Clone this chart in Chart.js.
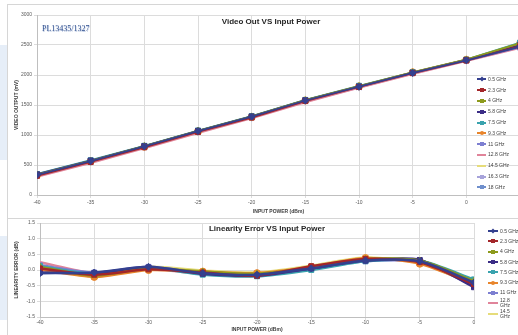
<!DOCTYPE html>
<html>
<head>
<meta charset="utf-8">
<script src="https://cdn.jsdelivr.net/npm/chart.js@4.4.1/dist/chart.umd.min.js"></script>
<style>
    html, body { margin: 0; padding: 0; width: 518px; height: 335px; overflow: hidden; background: #fff; font-family: "Liberation Sans", Arial, sans-serif; }
    .panel { position: absolute; left: 0; overflow: hidden; }
    #topPanel { top: 0; width: 518px; height: 218px; }
    #bottomPanel { top: 218px; width: 518px; height: 117px; }
    .panel canvas { position: absolute; left: 0; top: 0; }
    .frame { position: absolute; border: 1px solid #d6d6d6; }
    .shade { position: absolute; left: 0; width: 7px; background: #e6eef8; }
    .title { position: absolute; width: 200px; text-align: center; font-weight: bold; font-size: 8px; line-height: 10px; color: #262626; }
    .tag { position: absolute; left: 42px; top: 24px; font-family: "Liberation Serif", serif; font-size: 8px; line-height: 10px; color: #2f4f8f; text-shadow: 0.5px 0.5px 0 #b8c6e0; }
    .legend { position: absolute; overflow: hidden; font-size: 5px; color: #404040; }
    .item { display: flex; align-items: center; }
    .sw { position: relative; flex: none; height: 6px; margin-right: 2px; }
    .ln { position: absolute; left: 0; right: 0; top: 2px; height: 2px; }
    .mk { position: absolute; top: 1px; width: 4px; height: 4px; }
</style>
</head>
<body>

<div class="shade" style="top:45px;height:115px"></div>
<div class="shade" style="top:236px;height:84px"></div>

<div id="topPanel" class="panel">
    <div class="frame" style="left:7px;top:4px;width:530px;height:220px"></div>
    <canvas id="videoOutChart" width="540" height="218"></canvas>
    <div class="title" style="left:171px;top:17px">Video Out VS Input Power</div>
    <div class="tag">PL13435/1327</div>
    <div id="topLegend" class="legend" style="left:477px;top:74px;width:41px;height:120px"></div>
</div>

<div id="bottomPanel" class="panel">
    <div class="frame" style="left:7px;top:0;width:530px;height:130px"></div>
    <canvas id="linearityChart" width="518" height="117"></canvas>
    <div class="title" style="left:167px;top:6px">Linearity Error VS Input Power</div>
    <div id="bottomLegend" class="legend" style="left:488px;top:8px;width:30px;height:92px"></div>
</div>

<script>
// x values (dBm)
const inputPowerTop = [-40, -35, -30, -25, -20, -15, -10, -5, 0, 5];
const inputPowerBottom = [-40, -35, -30, -25, -20, -15, -10, -5, 0];

const seriesNames = ["0.5 GHz", "2.3 GHz", "4 GHz", "5.8 GHz", "7.5 GHz", "9.3 GHz",
    "11 GHz", "12.8 GHz", "14.5 GHz", "16.3 GHz", "18 GHz"];

// video output (mV)
const vo05 = [335, 565, 810, 1065, 1305, 1575, 1805, 2035, 2245, 2470];
const vo23 = [320, 550, 795, 1050, 1290, 1565, 1800, 2030, 2240, 2480];
const vo40 = [340, 570, 815, 1070, 1310, 1580, 1815, 2045, 2255, 2530];
const vo58 = [345, 575, 815, 1070, 1310, 1580, 1810, 2040, 2250, 2500];
const vo75 = [350, 580, 820, 1075, 1315, 1585, 1820, 2045, 2255, 2540];
const vo93 = [330, 560, 805, 1060, 1300, 1575, 1810, 2045, 2255, 2520];
const vo110 = [340, 565, 810, 1060, 1300, 1570, 1805, 2035, 2245, 2460];
const vo128 = [300, 530, 775, 1030, 1275, 1545, 1785, 2015, 2230, 2450];
const vo145 = [325, 555, 805, 1060, 1305, 1580, 1815, 2050, 2260, 2530];
const vo163 = [315, 545, 790, 1045, 1285, 1555, 1790, 2025, 2235, 2460];
const vo180 = [340, 570, 815, 1065, 1305, 1575, 1805, 2040, 2250, 2500];

// linearity error (dB)
const le05 = [-0.10, -0.08, 0.10, -0.10, -0.15, 0.05, 0.30, 0.28, -0.40];
const le23 = [0.05, -0.15, 0.02, -0.08, -0.18, 0.12, 0.35, 0.25, -0.45];
const le40 = [0.10, -0.18, 0.05, -0.05, -0.12, 0.08, 0.35, 0.30, -0.35];
const le58 = [-0.08, -0.10, 0.08, -0.12, -0.18, 0.05, 0.30, 0.32, -0.55];
const le75 = [0.12, -0.12, 0.06, -0.15, -0.20, 0.00, 0.28, 0.30, -0.30];
const le93 = [0.02, -0.22, 0.00, -0.05, -0.10, 0.10, 0.38, 0.20, -0.45];
const le110 = [0.15, -0.08, 0.10, -0.10, -0.15, 0.05, 0.28, 0.25, -0.50];
const le128 = [0.25, -0.10, 0.02, -0.12, -0.20, 0.08, 0.32, 0.28, -0.42];
const le145 = [0.08, -0.20, 0.10, -0.02, -0.08, 0.14, 0.40, 0.22, -0.38];
const le163 = [0.05, -0.12, 0.06, -0.08, -0.14, 0.06, 0.33, 0.27, -0.44];
const le180 = [0.10, -0.10, 0.05, -0.10, -0.16, 0.03, 0.30, 0.30, -0.40];

const videoOutSeries = [vo05, vo23, vo40, vo58, vo75, vo93, vo110, vo128, vo145, vo163, vo180];
const linearitySeries = [le05, le23, le40, le58, le75, le93, le110, le128, le145, le163, le180];

const seriesColors = ["#34408f", "#a3262a", "#8d9a1c", "#3b2d86", "#3aa3ae", "#e8852c",
    "#7d7fd1", "#e0849a", "#e6dc7a", "#a7a3da", "#6f8fcc"];
const seriesMarkers = ["rectRot", "rect", "triangle", "rect", "rect", "circle",
    "rect", false, false, "star", "rect"];

function makeDatasets(xs, series, width, radius) {
    return series.map(function (values, i) {
        return {
            label: seriesNames[i],
            data: xs.map(function (x, j) { return { x: x, y: values[j] }; }),
            borderColor: seriesColors[i],
            backgroundColor: seriesColors[i],
            borderWidth: width,
            pointStyle: seriesMarkers[i] || "circle",
            pointRadius: seriesMarkers[i] ? radius : 0,
            pointBorderWidth: 1
        };
    });
}

function axisTitle(text, pad) {
    return { display: true, text: text, color: "#404040", font: { size: 5, weight: "bold" }, padding: pad };
}

const tickFont = { size: 5 };
const gridStyle = { color: "#dcdcdc", tickLength: 3 };

new Chart(document.getElementById("videoOutChart"), {
    type: "line",
    data: { datasets: makeDatasets(inputPowerTop, videoOutSeries, 1.8, 3.5) },
    options: {
        responsive: false,
        animation: false,
        layout: { padding: { top: 15, right: 20, left: 0, bottom: 0 } },
        plugins: { legend: { display: false }, tooltip: { enabled: false } },
        scales: {
            x: {
                type: "linear", min: -40, max: 5,
                ticks: { stepSize: 5, font: tickFont, color: "#595959", padding: 2, maxRotation: 0,
                    callback: function (v) { return v > 0 ? "" : v; } },
                grid: gridStyle, border: { color: "#bfbfbf" },
                title: axisTitle("INPUT POWER (dBm)", { top: 0, bottom: 3 }),
                afterFit: function (s) { s.height = 23; }
            },
            y: {
                min: 0, max: 3000,
                ticks: { stepSize: 500, font: tickFont, color: "#595959", padding: 2,
                    callback: function (v) { return v; } },
                grid: gridStyle, border: { color: "#bfbfbf" },
                title: axisTitle("VIDEO OUTPUT (mV)", { top: 14, bottom: 0 }),
                afterFit: function (s) { s.width = 37; }
            }
        }
    }
});

new Chart(document.getElementById("linearityChart"), {
    type: "line",
    data: { datasets: makeDatasets(inputPowerBottom, linearitySeries, 2.5, 3.5).map(function (d) { d.tension = 0.25; return d; }) },
    options: {
        responsive: false,
        animation: false,
        layout: { padding: { top: 3, right: 44, left: 0, bottom: 0 } },
        plugins: { legend: { display: false }, tooltip: { enabled: false } },
        scales: {
            x: {
                type: "linear", min: -40, max: 0,
                ticks: { stepSize: 5, font: tickFont, color: "#595959", padding: 0, maxRotation: 0 },
                grid: gridStyle, border: { color: "#bfbfbf" },
                title: axisTitle("INPUT POWER (dBm)", { top: 0, bottom: 2 }),
                afterFit: function (s) { s.height = 18; }
            },
            y: {
                min: -1.5, max: 1.5,
                ticks: { stepSize: 0.5, font: tickFont, color: "#595959", padding: 2,
                    callback: function (v) { return v.toFixed(1); } },
                grid: gridStyle, border: { color: "#bfbfbf" },
                title: axisTitle("LINEARITY ERROR (dB)", { top: 14, bottom: 0 }),
                afterFit: function (s) { s.width = 40; }
            }
        }
    }
});

// legends built from the same series lists
function buildLegend(id, swatchWidth, rowHeight, textWidth) {
    const box = document.getElementById(id);
    seriesNames.forEach(function (name, i) {
        const item = document.createElement("div");
        item.className = "item";
        item.style.minHeight = rowHeight + "px";
        const sw = document.createElement("span");
        sw.className = "sw";
        sw.style.width = swatchWidth + "px";
        const ln = document.createElement("i");
        ln.className = "ln";
        ln.style.background = seriesColors[i];
        sw.appendChild(ln);
        if (seriesMarkers[i]) {
            const mk = document.createElement("i");
            mk.className = "mk";
            mk.style.left = (swatchWidth / 2 - 2) + "px";
            mk.style.background = seriesColors[i];
            if (seriesMarkers[i] === "circle") mk.style.borderRadius = "50%";
            if (seriesMarkers[i] === "rectRot") mk.style.transform = "rotate(45deg) scale(0.85)";
            sw.appendChild(mk);
        }
        const tx = document.createElement("span");
        tx.textContent = name;
        tx.style.lineHeight = "5px";
        if (textWidth) { tx.style.width = textWidth + "px"; tx.style.flex = "none"; }
        item.appendChild(sw);
        item.appendChild(tx);
        box.appendChild(item);
    });
}

buildLegend("topLegend", 9, 10.8, 0);
buildLegend("bottomLegend", 10, 10.3, 20.5);
</script>
</body>
</html>
